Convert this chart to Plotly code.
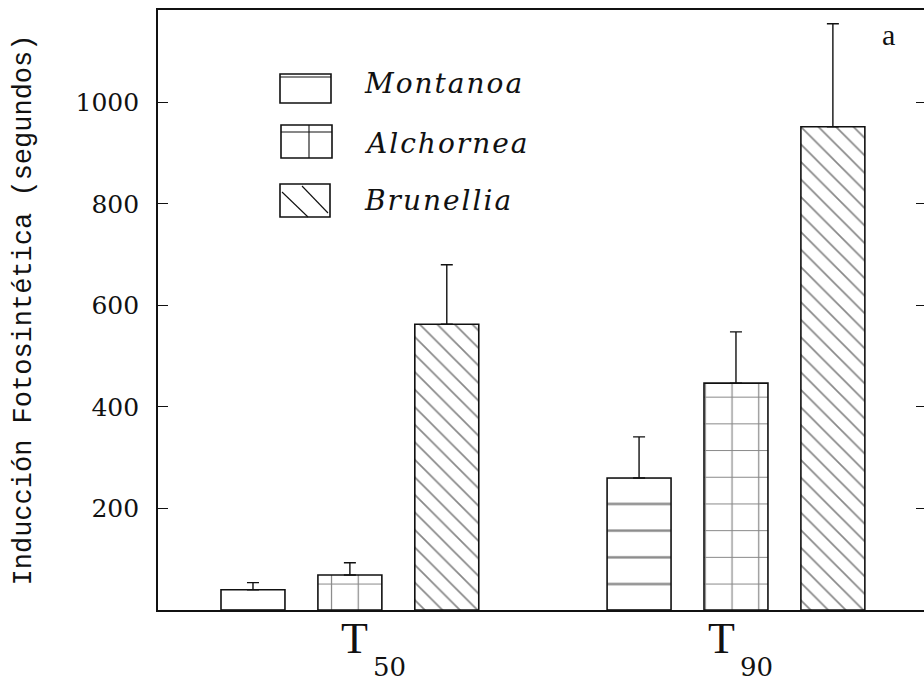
import plotly.graph_objects as go

# Data: photosynthetic induction time (s) at T50 and T90
categories = ["T50", "T90"]
species = ["Montanoa", "Alchornea", "Brunellia"]
montanoa = [40, 260]
montanoa_err = [14, 81]
alchornea = [69, 447]
alchornea_err = [24, 101]
brunellia = [563, 952]
brunellia_err = [117, 203]
tick_vals = [200, 400, 600, 800, 1000]

values = [montanoa, alchornea, brunellia]
errors = [montanoa_err, alchornea_err, brunellia_err]
patterns = [
    dict(shape="-", size=26.7, solidity=0.09),
    dict(shape="+", size=26.7, solidity=0.09),
    dict(shape="\\", size=12.4, solidity=0.14),
]

INK = "#111111"
fig = go.Figure()
for name, vals, errs, pat in zip(species, values, errors, patterns):
    fig.add_trace(go.Bar(
        x=categories, y=vals, name=name, showlegend=False,
        marker=dict(color="white", line=dict(color=INK, width=1.6),
                    pattern=dict(fgcolor=INK, bgcolor="white", **pat)),
        error_y=dict(type="data", symmetric=False, array=errs,
                     arrayminus=[0] * len(errs), color=INK,
                     thickness=1.4, width=6),
    ))

# Empty trace so the right-hand tick axis gets drawn
fig.add_trace(go.Scatter(x=categories[:1], y=[None], yaxis="y2",
                         showlegend=False, hoverinfo="skip"))

serif = "DejaVu Serif"
fig.update_layout(
    width=924, height=684,
    margin=dict(l=158, r=0, t=10, b=74),
    paper_bgcolor="white", plot_bgcolor="white",
    barmode="group", bargap=0.247, bargroupgap=0.34,
    xaxis=dict(range=[-0.497, 1.487], showline=True, linecolor=INK,
               linewidth=1.6, mirror=True, ticks="", showticklabels=False,
               showgrid=False, zeroline=False),
    yaxis=dict(range=[0, 1182], tickvals=tick_vals, ticks="inside",
               ticklen=10, tickcolor=INK, tickwidth=1, showline=True,
               linecolor=INK, linewidth=1.6, showgrid=False, zeroline=False,
               ticklabelstandoff=12,
               tickfont=dict(family=serif, size=25, color=INK),
               title=dict(text="Inducción Fotosintética (segundos)",
                          font=dict(family="Liberation Mono", size=27, color=INK),
                          standoff=36)),
    yaxis2=dict(overlaying="y", side="right", matches="y", tickvals=tick_vals,
                ticks="inside", ticklen=8, tickcolor=INK, tickwidth=1,
                showticklabels=False, showline=False, showgrid=False,
                zeroline=False),
)

# Category labels with subscripts
label_shift = [5, -14]
for cat, dx in zip(categories, label_shift):
    fig.add_annotation(x=cat, xref="x", y=0, yref="paper", yshift=-2,
                       xshift=dx, text=cat[0], showarrow=False,
                       xanchor="center", yanchor="top",
                       font=dict(family="Liberation Serif", size=44, color=INK))
    fig.add_annotation(x=cat, xref="x", y=0, yref="paper", yshift=-40,
                       xshift=dx + 16, text=cat[1:], showarrow=False,
                       xanchor="left", yanchor="top",
                       font=dict(family=serif, size=26, color=INK))

# Hand-drawn legend key: outlined boxes carrying each fill motif
px_w, px_h = 766, 600
def px(xp, yp):
    return (xp - 158) / px_w, (610 - yp) / px_h

boxes = [(280, 74, 331, 103), (281, 125, 332, 158), (280, 184, 330, 217)]
for x0, y0, x1, y1 in boxes:
    a0, b0 = px(x0, y1)
    a1, b1 = px(x1, y0)
    fig.add_shape(type="rect", xref="paper", yref="paper", x0=a0, y0=b0,
                  x1=a1, y1=b1, line=dict(color=INK, width=1.6))
motif_lines = [
    (280, 77, 331, 77),
    (281, 132, 332, 132), (309, 125, 309, 158),
    (282, 192, 308, 217), (302, 186, 328, 213),
]
for x0, y0, x1, y1 in motif_lines:
    a0, b0 = px(x0, y0)
    a1, b1 = px(x1, y1)
    fig.add_shape(type="line", xref="paper", yref="paper", x0=a0, y0=b0,
                  x1=a1, y1=b1, line=dict(color=INK, width=1.1))

legend_y = [84, 143, 200]
for name, yp in zip(species, legend_y):
    a, b = px(362, yp)
    fig.add_annotation(x=a, y=b, xref="paper", yref="paper", showarrow=False,
                       xanchor="left", yanchor="middle",
                       text=f"<i><span style='letter-spacing:2px'>{name}</span></i>",
                       font=dict(family=serif, size=28, color=INK))

a, b = px(888, 34)
fig.add_annotation(x=a, y=b, xref="paper", yref="paper", showarrow=False,
                   xanchor="center", yanchor="middle", text="a",
                   font=dict(family="Liberation Serif", size=30, color=INK))

fig.write_html("out.html")
